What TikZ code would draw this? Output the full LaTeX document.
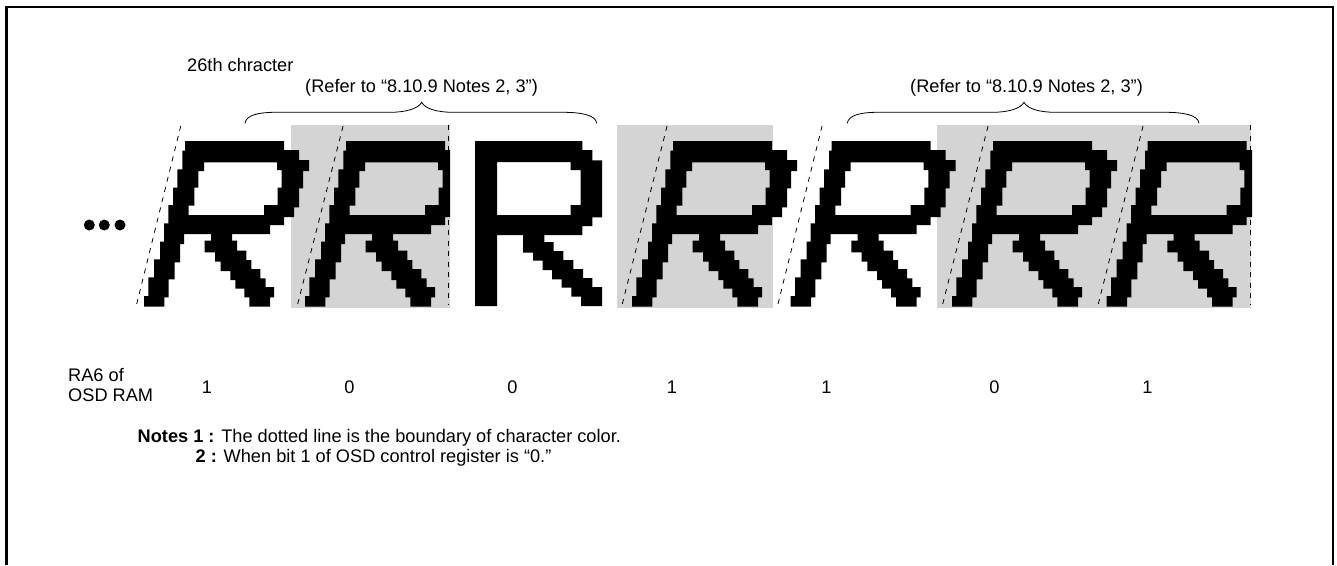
\documentclass[tikz,border=0pt]{standalone}
\usepackage{fontspec}
\setmainfont{Liberation Sans}
\usepackage{xcolor}
\usepackage{tikz}
\definecolor{shadecolor}{rgb}{0.83,0.83,0.83}

% slanted glyph, #1 = left end of its foot
\newcommand{\slantglyph}[1]{
  \fill[glyph, shift={(#1-14,90)}, scale=1/3]
    (165,153) -- (462,153) -- (462,180) -- (507,180) -- (507,210) -- (537,210) -- (537,243)
    -- (519,243) -- (519,295) -- (507,295) -- (507,352) -- (492,352) -- (492,381) -- (462,381)
    -- (462,405) -- (420,405) -- (420,432) -- (306,432) -- (306,452) -- (321,452) -- (321,482)
    -- (349,482) -- (349,510) -- (364,510) -- (364,537) -- (391,537) -- (391,565) -- (407,565)
    -- (407,591) -- (432,591) -- (432,622) -- (420,622) -- (420,650) -- (358,650) -- (358,622)
    -- (343,622) -- (343,596) -- (316,596) -- (316,570) -- (301,570) -- (301,543) -- (272,543)
    -- (272,515) -- (255,515) -- (255,487) -- (224,487) -- (224,452) -- (243,452) -- (243,432)
    -- (162,432) -- (162,462) -- (150,462) -- (150,517) -- (134,517) -- (134,568) -- (116,568)
    -- (116,622) -- (103,622) -- (103,650) -- (42,650) -- (42,618) -- (55,618) -- (55,562)
    -- (72,562) -- (72,508) -- (90,508) -- (90,455) -- (102,455) -- (102,400) -- (115,400)
    -- (115,345) -- (129,345) -- (129,293) -- (142,293) -- (142,238) -- (157,238) -- (157,182)
    -- (165,182) -- cycle
    (222,217) -- (441,217) -- (441,240) -- (455,240) -- (455,293) -- (443,293) -- (443,345)
    -- (402,345) -- (402,375) -- (176,375) -- (176,347) -- (193,347) -- (193,293) -- (205,293)
    -- (205,243) -- (222,243) -- cycle;
}
% curly bracket, #1 = left end
\newcommand{\notebrace}[1]{
  \draw[bracket, shift={(#1,0)}] (0,123.3) .. controls (1,115) and (14,112.3) .. (30,112.3)
    -- (145,112.3) .. controls (160,112.3) and (173,109) .. (176.7,102.3)
    .. controls (180,109) and (193,112.3) .. (208,112.3)
    -- (318,112.3) .. controls (336,112.3) and (351,115) .. (351.7,123.3);
}

\begin{document}
\begin{tikzpicture}[
    x=1pt, y=-1pt,
    charshade/.style={fill=shadecolor},
    glyph/.style={fill=black, even odd rule},
    boundary/.style={line width=0.8pt, dash pattern=on 5pt off 5.5pt},
    bracket/.style={line width=0.8pt},
    frameline/.style={line width=2.4pt},
    txt/.style={font=\fontsize{18.2}{20}\selectfont, inner sep=0pt},
    bitval/.style={txt, anchor=base}
]
\useasboundingbox (0,0) rectangle (1337,565);
\draw[frameline] (6.5,565) -- (6.5,7) -- (1333,7) -- (1333,565);

% shaded character backgrounds
\fill[charshade] (291,125) rectangle (450,307.7);
\fill[charshade] (617,125) rectangle (772.7,307.7);
\fill[charshade] (937,125) rectangle (1250.7,307.7);

% boundary lines
\foreach \xa/\xb in {136.7/181, 297.7/343.3, 622.3/667.3, 778/822.3, 942.7/988.3, 1098.3/1143.3}
  \draw[boundary] (\xa,304) -- (\xb,125);
\draw[boundary] (448.3,125) -- (448.3,304);
\draw[boundary] (1250,125) -- (1250,304);

% characters
\slantglyph{144}
\begin{scope}
  \clip (291,120) rectangle (450,310);
  \slantglyph{305}
\end{scope}
\fill[glyph, shift={(450,120)}, scale=1/3]
    (75,63) -- (397,63) -- (397,90) -- (427,90) -- (427,121) -- (456,121) -- (456,292) -- (427,292)
    -- (427,318) -- (397,318) -- (397,345) -- (283,345) -- (283,366) -- (311,366) -- (311,393)
    -- (340,393) -- (340,420) -- (370,420) -- (370,447) -- (399,447) -- (399,474) -- (427,474)
    -- (427,501) -- (456,501) -- (456,558) -- (393,558) -- (393,530) -- (364,530) -- (364,503)
    -- (335,503) -- (335,478) -- (306,478) -- (306,450) -- (278,450) -- (278,422) -- (249,422)
    -- (249,398) -- (219,398) -- (219,345) -- (141,345) -- (141,558) -- (75,558) -- cycle
    (141,126) -- (362,126) -- (362,150) -- (392,150) -- (392,255) -- (362,255) -- (362,285)
    -- (141,285) -- cycle;
\slantglyph{632}
\slantglyph{790.7}
\slantglyph{952}
\begin{scope}
  \clip (1100,120) rectangle (1252,310);
  \slantglyph{1106.7}
\end{scope}

% dots
\foreach \xd in {89.3, 104.3, 120}
  \fill (\xd,225) circle (5.5);

% brackets
\notebrace{245}
\notebrace{847.3}

% labels
\node[txt, anchor=base west] (charlabel) at (187,71) {26th chracter};
\node[txt, anchor=base west] (refa) at (305,92.5) {(Refer to “8.10.9 Notes 2, 3”)};
\node[txt, anchor=base west] (refb) at (910,92.5) {(Refer to “8.10.9 Notes 2, 3”)};
\node[txt, anchor=base west] (ramline) at (68,381.7) {RA6 of};
\node[txt, anchor=base west] (ramlinb) at (68,401.7) {OSD RAM};
\node[bitval] (bita) at (207,393) {1};
\node[bitval] (bitb) at (349.5,393) {0};
\node[bitval] (bitc) at (512.5,393) {0};
\node[bitval] (bitd) at (672,393) {1};
\node[bitval] (bite) at (826.5,393) {1};
\node[bitval] (bitf) at (994.3,393) {0};
\node[bitval] (bitg) at (1147.5,393) {1};
\node[txt, anchor=base west] (notea) at (137.5,442.3) {\textbf{Notes 1 :} The dotted line is the boundary of character color.};
\node[txt, anchor=base west] (noteb) at (195.5,462) {\textbf{2 :} When bit 1 of OSD control register is “0.”};
\end{tikzpicture}
\end{document}
